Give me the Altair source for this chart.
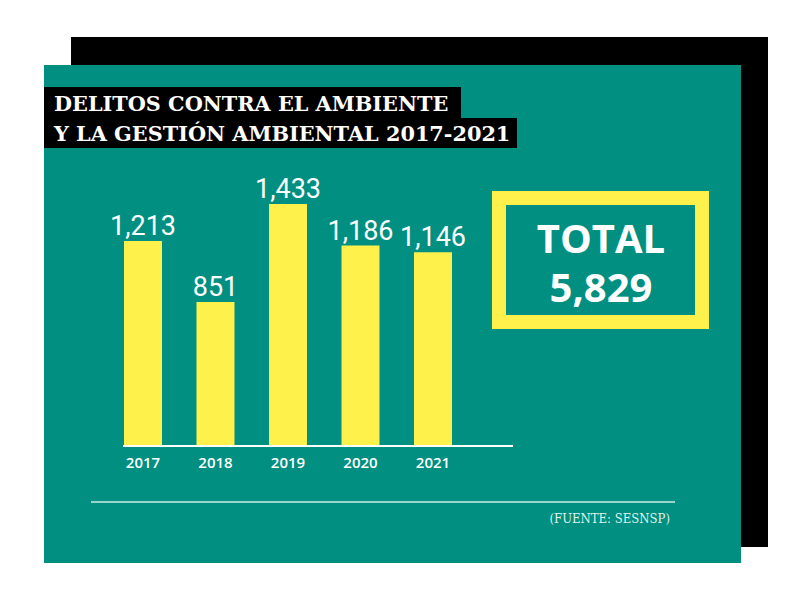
import altair as alt
import pandas as pd

# ---- data ----
years = ["2017", "2018", "2019", "2020", "2021"]
values = [1213, 851, 1433, 1186, 1146]
total_lines = ["TOTAL", "5,829"]
title_lines = ["DELITOS CONTRA EL AMBIENTE", "Y LA GESTIÓN AMBIENTAL 2017-2021"]
source = "(FUENTE: SESNSP)"

TEAL = "#008F80"
YELLOW = "#FFF14C"
BLACK = "#000000"
WHITE = "#FFFFFF"

df = pd.DataFrame({"year": years, "value": values})
one = pd.DataFrame({"k": [0]})

W, H = 784, 574

base = alt.Chart(one)

def rect(x, x2, y, y2, **kw):
    return base.mark_rect(**kw).encode(
        x=alt.value(x), x2=alt.value(x2), y=alt.value(y), y2=alt.value(y2)
    )

def label(text, x, y, **kw):
    return base.mark_text(text=text, **kw).encode(x=alt.value(x), y=alt.value(y))

black_back = rect(63, 760, 29, 539, color=BLACK)
teal_panel = rect(36, 733, 57, 555, color=TEAL)
title_box1 = rect(36, 453, 79, 110, color=BLACK)
title_box2 = rect(36, 509, 110, 140, color=BLACK)

title_font = dict(font="DejaVu Serif", fontWeight="bold", fontSize=20.8,
                  color=WHITE, align="left", baseline="alphabetic")
title1 = label(title_lines[0], 46, 103, **title_font)
title2 = label(title_lines[1], 46, 133, **title_font)

xscale = alt.Scale(range=[98.75, 461.25], paddingInner=0.476, paddingOuter=0.238)
yscale = alt.Scale(zero=True, nice=False, range=[437, 196])

bars_base = alt.Chart(df)
bars = bars_base.mark_bar(color=YELLOW).encode(
    x=alt.X("year:N", scale=xscale, axis=None, sort=years),
    y=alt.Y("value:Q", scale=yscale, axis=None),
)
value_labels = bars_base.mark_text(
    font="Roboto", fontSize=27, color=WHITE, baseline="alphabetic", dy=-6
).encode(
    x=alt.X("year:N", scale=xscale, axis=None, sort=years),
    y=alt.Y("value:Q", scale=yscale, axis=None),
    text=alt.Text("value:Q", format=","),
)
year_labels = bars_base.mark_text(
    font="Open Sans", fontSize=15, fontWeight=600, color=WHITE, baseline="alphabetic"
).encode(
    x=alt.X("year:N", scale=xscale, axis=None, sort=years),
    y=alt.value(460),
    text="year:N",
)

axis_line = base.mark_rule(color=WHITE, strokeWidth=2).encode(
    x=alt.value(115), x2=alt.value(505), y=alt.value(438)
)

total_box = rect(491, 694, 190, 314, fill=None, fillOpacity=0, stroke=YELLOW, strokeWidth=14)
total_text = label(total_lines, 593, 245, font="Open Sans", fontWeight="bold", fontSize=40,
                   color=WHITE, align="center", baseline="alphabetic", lineHeight=49)

bottom_rule = base.mark_rule(color="#CDEFE8", strokeWidth=1.5).encode(
    x=alt.value(83), x2=alt.value(667), y=alt.value(494)
)
source_text = label(source, 662, 515, font="DejaVu Serif Condensed", fontSize=13,
                    color="#DDF3EE", align="right", baseline="alphabetic")

chart = alt.layer(
    black_back, teal_panel, title_box1, title_box2, title1, title2,
    bars, value_labels, year_labels, axis_line,
    total_box, total_text, bottom_rule, source_text,
).properties(
    width=W, height=H, padding=0,
    autosize=alt.AutoSizeParams(type="none"),
    background=WHITE,
).configure_view(stroke=None)

chart.save("out.html", embed_options={"renderer": "svg", "actions": False})
